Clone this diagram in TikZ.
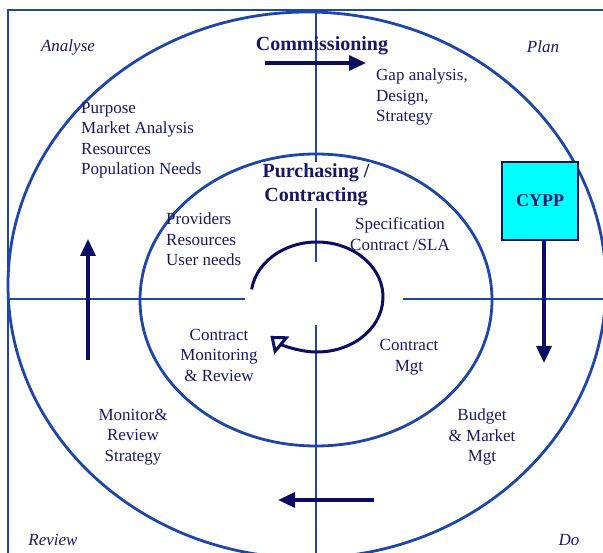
\documentclass[tikz,border=0pt]{standalone}
\usepackage{fontspec}
\setmainfont{Liberation Serif}
\usetikzlibrary{arrows.meta}

\definecolor{ringblue}{HTML}{1E46A8}
\definecolor{textnavy}{HTML}{181866}
\definecolor{arrownavy}{HTML}{0C0C62}
\definecolor{cyppcyan}{HTML}{00FFFF}

\begin{document}
\begin{tikzpicture}[x=1pt,y=-1pt,
		ring/.style={draw=ringblue,line width=2.8pt},
		flow/.style={draw=arrownavy,line width=3.2pt,-{Triangle[length=17pt,width=15pt]}},
		lbl/.style={text=textnavy,inner sep=0pt,font=\fontsize{17}{20.5}\selectfont},
		corner/.style={lbl,font=\fontsize{17}{20}\selectfont\itshape},
		title/.style={lbl,align=center,font=\fontsize{20}{24}\selectfont\bfseries}]
	\useasboundingbox (0,0) rectangle (603,553);
	\clip (0,0) rectangle (603,553);
	% frame
	\draw[draw=ringblue,line width=1.6pt] (8,560) -- (8,10) -- (610,10);
	% rings
	\draw[ring] (307,285) ellipse [x radius=299, y radius=273];
	\draw[ring] (316,300) ellipse [x radius=176, y radius=146];
	% cross
	\draw[ring] (316,12) -- (316,262);
	\draw[ring] (316,325) -- (316,560);
	\draw[ring] (8,299) -- (245,299);
	\draw[ring] (403,299) -- (610,299);
	% inner loop
	\draw[draw=arrownavy,line width=3pt,-{Triangle[open,length=15pt,width=23pt]}]
		(317,297) ++(188:66 and 55) arc[start angle=188, end angle=495, x radius=66, y radius=55];
	% labels
	\node[corner] (analyse) at (68,47) {Analyse};
	\node[corner] (plan) at (543,47) {Plan};
	\node[corner] (review) at (53,540) {Review};
	\node[corner] (do) at (569,540) {Do};
	\node[title] (comm) at (322,46) {Commissioning};
	\node[title,fill=white,inner sep=2pt] (purch) at (316,185) {Purchasing /\\Contracting};
	\node[lbl,align=left,anchor=north west] (gap) at (376,69) {Gap analysis,\\Design,\\Strategy};
	\node[lbl,align=left,anchor=north west] (purpose) at (81,102) {Purpose\\Market Analysis\\Resources\\Population Needs};
	\node[lbl,align=left,anchor=north west] (prov) at (166,213) {Providers\\Resources\\User needs};
	\node[lbl,align=center] (spec) at (400,234) {Specification\\Contract /SLA};
	\node[lbl,align=center] (cmon) at (219,355) {Contract\\Monitoring\\\& Review};
	\node[lbl,align=center] (cmgt) at (409,357) {Contract\\Mgt};
	\node[lbl,align=center] (monrev) at (133,437) {Monitor\&\\Review\\Strategy};
	\node[lbl,align=center] (budget) at (482,437) {Budget\\\& Market\\Mgt};
	% CYPP box
	\node[draw=arrownavy,line width=1.4pt,fill=cyppcyan,minimum width=76pt,minimum height=78pt,
		text=textnavy,font=\fontsize{18}{20}\selectfont\bfseries] (cypp) at (540,201) {CYPP};
	% arrows
	\coordinate (commstart) at (265,63);
	\coordinate (commend) at (366,63);
	\coordinate (downend) at (544,363);
	\coordinate (backstart) at (374,500);
	\coordinate (backend) at (278,500);
	\coordinate (upstart) at (88,360);
	\coordinate (upend) at (88,239);
	\draw[flow] (commstart) -- (commend);
	\draw[flow] (cypp.south -| downend) -- (downend);
	\draw[flow] (backstart) -- (backend);
	\draw[flow] (upstart) -- (upend);
\end{tikzpicture}
\end{document}
